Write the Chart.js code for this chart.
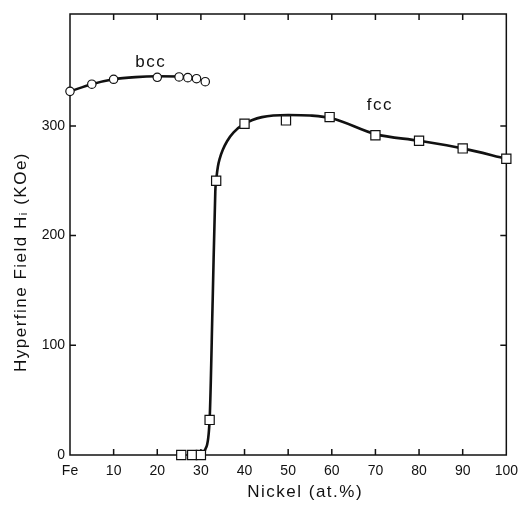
<!DOCTYPE html>
<html>
<head>
<meta charset="utf-8">
<script src="https://cdn.jsdelivr.net/npm/chart.js@4.4.1/dist/chart.umd.min.js"></script>
<style>
  html, body { margin: 0; padding: 0; background: #fff; }
  #wrap { width: 526px; height: 507px; }
</style>
</head>
<body>
<div id="wrap"><canvas id="fieldChart" width="526" height="507"></canvas></div>
<script>
//! DATOS
const bccNickel = [0, 5, 10, 20, 25, 27, 29, 31];
const bccField = [331.5, 338, 342.5, 344.3, 344.6, 344, 343, 340.3];

const fccNickel = [25.5, 28, 30, 32, 33.5, 40, 49.5, 59.5, 70, 80, 90, 100];
const fccField = [0, 0, 0, 32, 250, 302, 305, 308, 291.5, 286.5, 279.5, 270];

// curvas dibujadas a mano en la figura (leidas punto a punto)
const bccCurveX = [0, 5, 10, 15, 20, 25, 29];
const bccCurveY = [331.5, 338, 342.5, 344.5, 345.2, 345, 344];
const fccCurveX = [30, 31, 32, 32.7, 33.3, 33.6, 33.9, 34.3, 35, 36, 37.5, 40, 44, 50, 55, 60, 70, 80, 90, 100];
const fccCurveY = [0, 5, 32, 141, 240, 254, 263, 270, 278, 286, 294, 302, 308, 310, 309.5, 307, 292.5, 286.5, 279.5, 270];

const xTickValues = [0, 10, 20, 30, 40, 50, 60, 70, 80, 90, 100];
const xTickLabels = ["Fe", "10", "20", "30", "40", "50", "60", "70", "80", "90", "100"];
const yTickValues = [0, 100, 200, 300];

const phaseLabels = ["bcc", "fcc"];
const phaseLabelX = [18.5, 71];
const phaseLabelY = [358, 319];

const xTitle = "Nickel (at.%)";
const yTitle = "Hyperfine Field H\u1D62 (KOe)";

const ink = "#111";
const font = "'Liberation Sans', Arial, sans-serif";

const toPoints = (xs, ys) => xs.map((x, i) => ({ x: x, y: ys[i] }));

//! PLUGIN: MARCO, MARCAS HACIA DENTRO Y TEXTOS
const framePlugin = {
  id: "frame",
  beforeDatasetsDraw(chart) {
    const { ctx, chartArea: a, scales } = chart;
    const xs = scales.x;
    const ys = scales.y;
    ctx.save();
    ctx.strokeStyle = ink;
    ctx.lineWidth = 1.5;
    ctx.strokeRect(a.left, a.top, a.right - a.left, a.bottom - a.top);

    const len = 6;
    ctx.beginPath();
    xTickValues.slice(1, -1).forEach((v) => {
      const px = xs.getPixelForValue(v);
      ctx.moveTo(px, a.bottom);
      ctx.lineTo(px, a.bottom - len);
      ctx.moveTo(px, a.top);
      ctx.lineTo(px, a.top + len);
    });
    yTickValues.slice(1).forEach((v) => {
      const py = ys.getPixelForValue(v);
      ctx.moveTo(a.left, py);
      ctx.lineTo(a.left + len, py);
      ctx.moveTo(a.right, py);
      ctx.lineTo(a.right - len, py);
    });
    ctx.stroke();

    ctx.fillStyle = ink;
    ctx.letterSpacing = "1.5px";
    ctx.font = "17px " + font;
    ctx.textAlign = "center";
    ctx.textBaseline = "middle";
    phaseLabels.forEach((t, i) => {
      ctx.fillText(t, xs.getPixelForValue(phaseLabelX[i]), ys.getPixelForValue(phaseLabelY[i]));
    });

    ctx.fillText(xTitle, (a.left + a.right) / 2 + 17, 492);

    ctx.translate(21, 262);
    ctx.rotate(-Math.PI / 2);
    ctx.fillText(yTitle, 0, 0);
    ctx.restore();
  },
};

const lineStyle = {
  showLine: true,
  pointRadius: 0,
  borderColor: ink,
  borderWidth: 2.6,
  cubicInterpolationMode: "monotone",
  fill: false,
  clip: false,
  order: 2,
};

const markerStyle = {
  showLine: false,
  borderColor: ink,
  backgroundColor: "#fff",
  borderWidth: 1.2,
  clip: false,
  order: 1,
};

new Chart(document.getElementById("fieldChart").getContext("2d"), {
  type: "scatter",
  data: {
    datasets: [
      { label: "bcc curve", data: toPoints(bccCurveX, bccCurveY), ...lineStyle },
      { label: "fcc curve", data: toPoints(fccCurveX, fccCurveY), ...lineStyle },
      { label: "bcc", data: toPoints(bccNickel, bccField), pointStyle: "circle", pointRadius: 4.2, ...markerStyle },
      { label: "fcc", data: toPoints(fccNickel, fccField), pointStyle: "rect", pointRadius: 6.5, ...markerStyle },
    ],
  },
  options: {
    responsive: false,
    animation: false,
    layout: { padding: { top: 14, right: 16, left: 0, bottom: 0 } },
    plugins: {
      legend: { display: false },
      tooltip: { enabled: false },
    },
    scales: {
      x: {
        type: "linear",
        min: 0,
        max: 100,
        afterBuildTicks: (scale) => {
          scale.ticks = xTickValues.map((v) => ({ value: v }));
        },
        afterFit: (scale) => {
          scale.height = 52;
        },
        grid: { display: false, drawTicks: false },
        border: { display: false },
        ticks: {
          color: ink,
          padding: 8,
          maxRotation: 0,
          autoSkip: false,
          font: { family: font, size: 14 },
          callback: (v) => xTickLabels[xTickValues.indexOf(v)],
        },
      },
      y: {
        type: "linear",
        min: 0,
        max: 402,
        afterBuildTicks: (scale) => {
          scale.ticks = yTickValues.map((v) => ({ value: v }));
        },
        afterFit: (scale) => {
          scale.width = 70;
        },
        grid: { display: false, drawTicks: false },
        border: { display: false },
        ticks: {
          color: ink,
          padding: 5,
          font: { family: font, size: 14 },
        },
      },
    },
  },
  plugins: [framePlugin],
});
</script>
</body>
</html>
